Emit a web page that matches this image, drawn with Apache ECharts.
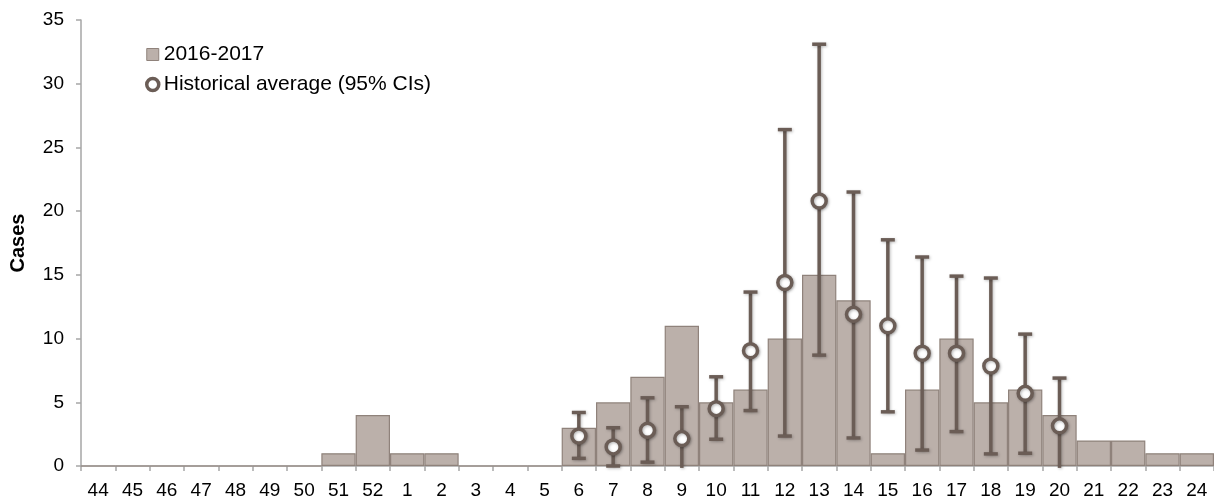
<!DOCTYPE html>
<html>
<head>
<meta charset="utf-8">
<script src="https://cdn.jsdelivr.net/npm/echarts@6/dist/echarts.min.js"></script>
<style>
  html, body { margin: 0; padding: 0; background: #fff; }
  #chart { width: 1214px; height: 504px; }
</style>
</head>
<body>
<div id="chart"></div>
<script>
// Surveillance weeks (week 44 of 2016 through week 24 of 2017)
const weeks = ['44','45','46','47','48','49','50','51','52','1','2','3','4','5','6','7','8','9','10',
  '11','12','13','14','15','16','17','18','19','20','21','22','23','24'];

// Weekly case counts, 2016-2017 season
const cases = [0,0,0,0,0,0,0,1,4,1,1,0,0,0,3,5,7,11,5,6,10,15,13,1,6,10,5,6,4,2,2,1,1];

// Historical average with 95% confidence interval, weeks 6-20
const histWeeks = ['6','7','8','9','10','11','12','13','14','15','16','17','18','19','20'];
const histAvg  = [2.35, 1.5, 2.8, 2.15, 4.5, 9.05, 14.4, 20.8, 11.9, 11.0, 8.85, 8.85, 7.85, 5.7, 3.15];
const ciLow    = [0.6, 0.0, 0.3, -0.15, 2.1, 4.35, 2.35, 8.7, 2.2, 4.25, 1.25, 2.7, 0.95, 1.0, -0.15];
const ciHigh   = [4.2, 3.0, 5.35, 4.65, 7.0, 13.65, 26.4, 33.1, 21.5, 17.75, 16.4, 14.9, 14.75, 10.35, 6.9];

const yTicks = { min: 0, max: 35, interval: 5 };

const BAR_FILL = '#bbb0aa';
const BAR_EDGE = '#8f827b';
const DARK = '#6b5d56';
const AXIS = '#a6a6a6';
const FONT = 'Liberation Sans';

const avgPoints = histWeeks.map((w, i) => [w, histAvg[i]]);
const ciPoints = histWeeks.map((w, i) => [w, ciLow[i], ciHigh[i]]);

const chart = echarts.init(document.getElementById('chart'));

chart.setOption({
  animation: false,
  textStyle: { fontFamily: FONT },
  grid: { left: 77, right: 0, top: 20, bottom: 38, containLabel: false },
  legend: {
    orient: 'vertical',
    left: 145,
    top: 44,
    padding: 0,
    itemWidth: 12,
    itemHeight: 12,
    itemGap: 9,
    textStyle: { fontSize: 21, color: '#000', fontFamily: FONT },
    data: [
      { name: '2016-2017', icon: 'rect', itemStyle: { color: BAR_FILL, borderColor: BAR_EDGE, borderWidth: 1 } },
      { name: 'Historical average (95% CIs)', icon: 'circle',
        itemStyle: { color: '#fff', borderColor: DARK, borderWidth: 3.5 } }
    ]
  },
  xAxis: {
    type: 'category',
    data: weeks,
    boundaryGap: true,
    axisLine: { lineStyle: { color: AXIS, width: 1.5 } },
    axisTick: { show: true, length: 5, lineStyle: { color: AXIS, width: 1.5 } },
    axisLabel: { color: '#000', fontSize: 19, margin: 15, interval: 0, fontFamily: FONT },
    splitLine: { show: false }
  },
  yAxis: {
    type: 'value',
    min: yTicks.min,
    max: yTicks.max,
    interval: yTicks.interval,
    name: 'Cases',
    nameLocation: 'middle',
    nameGap: 53,
    nameTextStyle: { fontSize: 20, fontWeight: 'bold', color: '#000', fontFamily: FONT },
    axisLine: { show: true, lineStyle: { color: AXIS, width: 1.5 } },
    axisTick: { show: true, length: 5, lineStyle: { color: AXIS, width: 1.5 } },
    axisLabel: { color: '#000', fontSize: 19, margin: 17, fontFamily: FONT },
    splitLine: { show: false }
  },
  series: [
    {
      name: '2016-2017',
      type: 'bar',
      data: cases,
      barCategoryGap: '0%',
      itemStyle: { color: BAR_FILL, borderColor: BAR_EDGE, borderWidth: 1.2 },
      z: 2
    },
    {
      name: 'ci',
      type: 'custom',
      data: ciPoints,
      encode: { x: 0, y: [1, 2] },
      z: 3,
      renderItem: function (params, api) {
        const x = api.value(0);
        const lo = api.value(1);
        const hi = api.value(2);
        const pLo = api.coord([x, lo]);
        const pHi = api.coord([x, hi]);
        const half = 7;
        const style = { stroke: DARK, lineWidth: 3.5, shadowBlur: 3, shadowColor: 'rgba(0,0,0,0.25)', shadowOffsetX: 1, shadowOffsetY: 1 };
        const children = [
          { type: 'line', shape: { x1: pLo[0], y1: pLo[1], x2: pHi[0], y2: pHi[1] }, style: style },
          { type: 'line', shape: { x1: pHi[0] - half, y1: pHi[1], x2: pHi[0] + half, y2: pHi[1] }, style: style }
        ];
        if (lo >= 0) {
          children.push({ type: 'line', shape: { x1: pLo[0] - half, y1: pLo[1], x2: pLo[0] + half, y2: pLo[1] }, style: style });
        }
        return { type: 'group', children: children };
      }
    },
    {
      name: 'Historical average (95% CIs)',
      type: 'scatter',
      data: avgPoints,
      symbol: 'circle',
      symbolSize: 14,
      z: 4,
      itemStyle: {
        color: '#fff', borderColor: DARK, borderWidth: 3.5, opacity: 1,
        shadowBlur: 3, shadowColor: 'rgba(0,0,0,0.3)', shadowOffsetX: 1, shadowOffsetY: 1
      }
    }
  ]
});
</script>
</body>
</html>
